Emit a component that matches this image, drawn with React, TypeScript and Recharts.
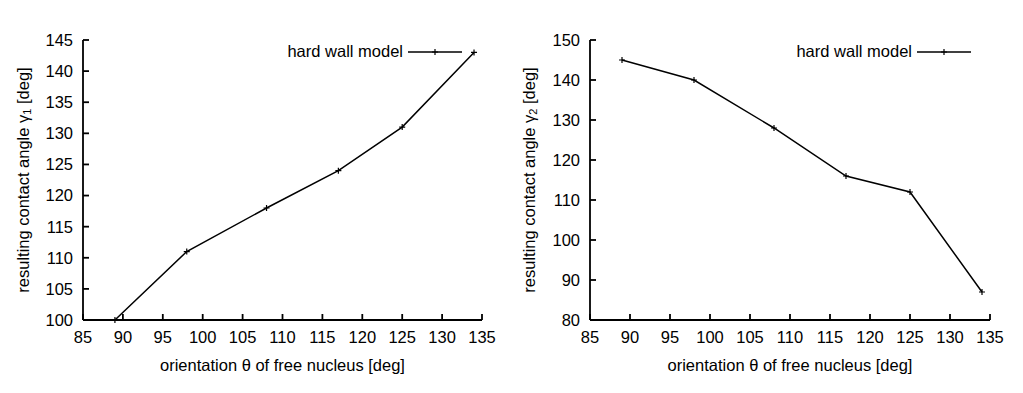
import { LineChart, Line, XAxis, YAxis, Legend } from "recharts";

const theta = [89, 98, 108, 117, 125, 134];
const gamma1 = [100, 111, 118, 124, 131, 143];
const gamma2 = [145, 140, 128, 116, 112, 87];

const xTicks = [85, 90, 95, 100, 105, 110, 115, 120, 125, 130, 135];
const y1Ticks = [100, 105, 110, 115, 120, 125, 130, 135, 140, 145];
const y2Ticks = [80, 90, 100, 110, 120, 130, 140, 150];

const FONT = '"Liberation Sans", Arial, Helvetica, sans-serif';
const FS = 16.5;
const tickStyle = { fill: "#000", fontSize: FS, fontFamily: FONT };

const PlusDot = (props: any) => {
  const { cx, cy } = props;
  if (cx == null || cy == null) return <g />;
  return <path d={`M${cx - 3},${cy}h6M${cx},${cy - 3}v6`} stroke="#000" strokeWidth={1.2} />;
};

const LegendBox = () => (
  <div style={{ display: "flex", alignItems: "center", justifyContent: "flex-end", fontFamily: FONT, fontSize: FS, color: "#000" }}>
    <span>hard wall model</span>
    <svg width={58} height={12} style={{ marginLeft: 3 }}>
      <line x1={2} y1={6} x2={56} y2={6} stroke="#000" strokeWidth={1.5} />
      <path d="M29,3v6M26,6h6" stroke="#000" strokeWidth={1.2} />
    </svg>
  </div>
);

interface PanelProps {
  values: number[];
  yDomain: [number, number];
  yTicks: number[];
  sub: string;
  width: number;
  yAxisWidth: number;
  right: number;
  labelX: number;
  legendRight: number;
}

function Panel({ values, yDomain, yTicks, sub, width, yAxisWidth, right, labelX, legendRight }: PanelProps) {
  const data = theta.map((t, i) => ({ theta: t, gamma: values[i] }));
  const top = 40;
  const bottomAxis = 73;
  const height = 393;
  const plotMid = top + (height - top - bottomAxis) / 2;
  const plotCx = yAxisWidth + (width - yAxisWidth - right) / 2;

  const YTitle = () => (
    <text
      x={labelX}
      y={plotMid}
      transform={`rotate(-90 ${labelX} ${plotMid})`}
      textAnchor="middle"
      dominantBaseline="central"
      fontFamily={FONT}
      fontSize={FS}
      fill="#000"
    >
      resulting contact angle γ
      <tspan fontSize={11} dy={4}>{sub}</tspan>
      <tspan dy={-4}> [deg]</tspan>
    </text>
  );

  const XTitle = () => (
    <text x={plotCx} y={365} textAnchor="middle" dominantBaseline="central" fontFamily={FONT} fontSize={FS} fill="#000">
      orientation θ of free nucleus [deg]
    </text>
  );

  return (
    <LineChart width={width} height={height} data={data} margin={{ top, right, bottom: 0, left: 0 }}>
      <XAxis
        xAxisId="b"
        dataKey="theta"
        type="number"
        domain={[85, 135]}
        ticks={xTicks}
        height={bottomAxis}
        tickSize={-6}
        tickMargin={17}
        tick={tickStyle}
        stroke="#000"
        strokeWidth={1.8}
        label={{ content: () => <XTitle /> }}
      />
      <XAxis
        xAxisId="t"
        orientation="top"
        dataKey="theta"
        type="number"
        domain={[85, 135]}
        ticks={xTicks}
        height={0}
        tickSize={-6}
        tick={false}
        stroke="#000"
        strokeWidth={1.8}
      />
      <YAxis
        yAxisId="l"
        type="number"
        domain={yDomain}
        ticks={yTicks}
        width={yAxisWidth}
        tickSize={-6}
        tickMargin={16}
        tick={tickStyle}
        stroke="#000"
        strokeWidth={1.8}
        label={{ content: () => <YTitle /> }}
      />
      <YAxis
        yAxisId="r"
        orientation="right"
        type="number"
        domain={yDomain}
        ticks={yTicks}
        width={0}
        tickSize={-6}
        tick={false}
        stroke="#000"
        strokeWidth={1.8}
      />
      <Legend
        layout="vertical"
        align="center"
        verticalAlign="middle"
        wrapperStyle={{ top: 42, left: width - legendRight - 260, width: 260 }}
        content={() => <LegendBox />}
      />
      <Line
        xAxisId="b"
        yAxisId="l"
        dataKey="gamma"
        stroke="#000"
        strokeWidth={1.5}
        dot={<PlusDot />}
        activeDot={false}
        isAnimationActive={false}
      />
    </LineChart>
  );
}

export default function App() {
  return (
    <div style={{ position: "absolute", left: 0, top: 0, width: 1023, height: 393, background: "#fff", display: "flex" }}>
      <Panel
        values={gamma1}
        yDomain={[100, 145]}
        yTicks={y1Ticks}
        sub="1"
        width={511}
        yAxisWidth={83}
        right={29}
        labelX={23}
        legendRight={47}
      />
      <Panel
        values={gamma2}
        yDomain={[80, 150]}
        yTicks={y2Ticks}
        sub="2"
        width={512}
        yAxisWidth={79}
        right={33}
        labelX={18}
        legendRight={50}
      />
    </div>
  );
}
